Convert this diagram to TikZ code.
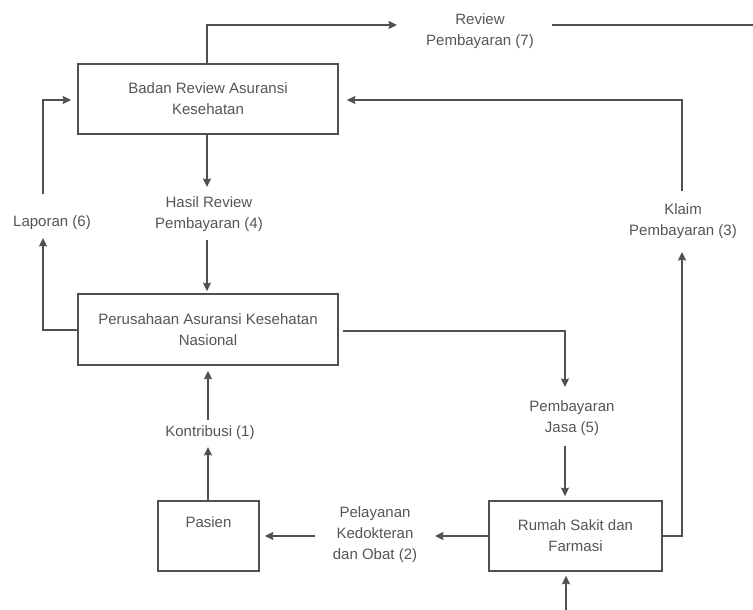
\documentclass[tikz,border=0pt]{standalone}
\usepackage{fontspec}
\setmainfont{Liberation Sans}
\usetikzlibrary{arrows.meta,calc}
\definecolor{linec}{HTML}{505050}
\definecolor{textc}{HTML}{555555}
\tikzset{
  box/.style={draw=linec, line width=1.6pt, inner sep=0pt, align=center, text=textc, font=\fontsize{15}{21}\selectfont},
  lbl/.style={inner sep=0pt, align=center, text=textc, font=\fontsize{15}{21}\selectfont},
  arr/.style={draw=linec, line width=1.5pt, -{Stealth[length=8.5pt,width=8pt,inset=1pt]}},
  wire/.style={draw=linec, line width=1.5pt}
}
\begin{document}
\begin{tikzpicture}[x=1pt,y=1pt]
\useasboundingbox (0,0) rectangle (753,610);
% boxes
\node[box, minimum width=260pt, minimum height=70pt] (badan) at (208,511) {Badan Review Asuransi\\Kesehatan};
\node[box, minimum width=260pt, minimum height=71pt] (perus) at (208,280.5) {Perusahaan Asuransi Kesehatan\\Nasional};
\node[box, minimum width=101pt, minimum height=70pt] (pasien) at (208.5,74) {Pasien\\\strut};
\node[box, minimum width=173pt, minimum height=70pt] (rumah) at (575.5,74) {Rumah Sakit dan\\Farmasi};
% labels
\node[lbl] (rev7) at (480,578.5) {Review\\Pembayaran (7)};
\node[lbl] (hasil) at (209,395.5) {Hasil Review\\Pembayaran (4)};
\node[lbl] (laporan) at (52,387) {Laporan (6)};
\node[lbl] (klaim) at (683,389) {Klaim\\Pembayaran (3)};
\node[lbl] (jasa) at (572,191.5) {Pembayaran\\Jasa (5)};
\node[lbl] (kontri) at (210,177) {Kontribusi (1)};
\node[lbl] (pelay) at (375,75) {Pelayanan\\Kedokteran\\dan Obat (2)};
% free ends
\coordinate (topend) at (753,585);
\coordinate (botstart) at (566,0);
% connectors
\draw[arr] ([xshift=-1pt]badan.north) |- ([xshift=-83pt,yshift=6.5pt]rev7.center);
\draw[wire] ([xshift=72pt,yshift=6.5pt]rev7.center) -- (topend);
\draw[arr] ([xshift=-1pt]badan.south) -- ([xshift=-2pt,yshift=27.5pt]hasil.center);
\draw[arr] ([xshift=-2pt,yshift=-25.5pt]hasil.center) -- ([xshift=-1pt,yshift=2pt]perus.north);
\draw[arr] ([yshift=-0.5pt]perus.west) -| ([xshift=-9pt,yshift=-15pt]laporan.center);
\draw[arr] ([xshift=-9pt,yshift=29pt]laporan.center) |- ([xshift=-6pt,yshift=-1pt]badan.west);
\draw[arr] ([xshift=4pt,yshift=-1.5pt]perus.east) -| ([xshift=-7pt,yshift=31.5pt]jasa.center);
\draw[arr] ([xshift=-7pt,yshift=-27.5pt]jasa.center) -- ([xshift=-10.5pt,yshift=4pt]rumah.north);
\draw[arr] (rumah.east) -| ([xshift=-1pt,yshift=-31pt]klaim.center);
\draw[arr] ([xshift=-1pt,yshift=30pt]klaim.center) |- ([xshift=8pt,yshift=-1pt]badan.east);
\draw[arr] (rumah.west) -- ([xshift=60pt,yshift=-1pt]pelay.center);
\draw[arr] ([xshift=-60pt,yshift=-1pt]pelay.center) -- ([xshift=5pt]pasien.east);
\draw[arr] ([xshift=-0.5pt]pasien.north) -- ([xshift=-2pt,yshift=-14pt]kontri.center);
\draw[arr] ([xshift=-2pt,yshift=13pt]kontri.center) -- ([yshift=-5pt]perus.south);
\draw[arr] (botstart) -- ([xshift=-9.5pt,yshift=-4pt]rumah.south);
\end{tikzpicture}
\end{document}
